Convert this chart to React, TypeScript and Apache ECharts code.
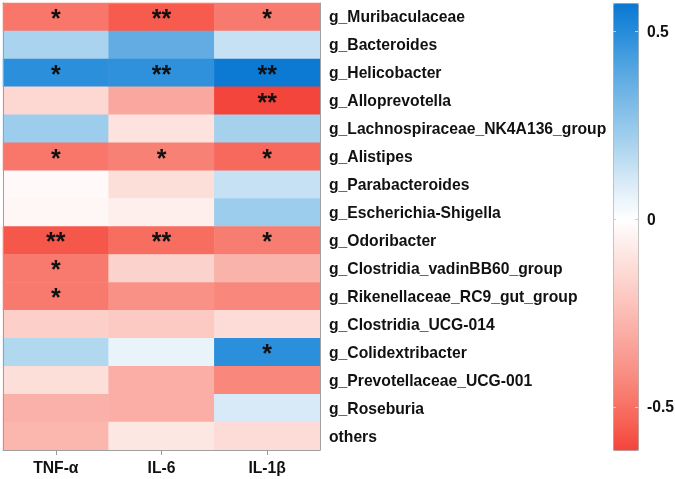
import React, { useEffect, useRef } from "react";
import * as echarts from "echarts";

const cytokines = ["TNF-α", "IL-6", "IL-1β"];
const genera = [
  "g_Muribaculaceae",
  "g_Bacteroides",
  "g_Helicobacter",
  "g_Alloprevotella",
  "g_Lachnospiraceae_NK4A136_group",
  "g_Alistipes",
  "g_Parabacteroides",
  "g_Escherichia-Shigella",
  "g_Odoribacter",
  "g_Clostridia_vadinBB60_group",
  "g_Rikenellaceae_RC9_gut_group",
  "g_Clostridia_UCG-014",
  "g_Colidextribacter",
  "g_Prevotellaceae_UCG-001",
  "g_Roseburia",
  "others",
];
const tnfValues = [-0.48, 0.2, 0.49, -0.15, 0.23, -0.48, -0.02, -0.03, -0.57, -0.47, -0.47, -0.18, 0.18, -0.12, -0.29, -0.27];
const il6Values = [-0.56, 0.37, 0.48, -0.32, -0.11, -0.45, -0.12, -0.06, -0.51, -0.17, -0.4, -0.2, 0.06, -0.3, -0.3, -0.09];
const il1bValues = [-0.47, 0.14, 0.57, -0.61, 0.21, -0.52, 0.14, 0.23, -0.46, -0.28, -0.43, -0.13, 0.49, -0.43, 0.1, -0.13];
const tnfStars = ["*", "", "*", "", "", "*", "", "", "**", "*", "*", "", "", "", "", ""];
const il6Stars = ["**", "", "**", "", "", "*", "", "", "**", "", "", "", "", "", "", ""];
const il1bStars = ["*", "", "**", "**", "", "*", "", "", "*", "", "", "", "*", "", "", ""];
const colorbarTicks = [0.5, 0, -0.5];
const scaleMin = -0.616;
const scaleMax = 0.576;

// colour scale key points (value -> colour)
const scaleKeys = [-0.616, -0.56, -0.48, -0.4, -0.3, -0.2, -0.1, 0, 0.1, 0.2, 0.3, 0.4, 0.49, 0.576];
const scaleColors = [
  "#f3433a", "#f65b4e", "#f8776a", "#f99186", "#faaea6", "#fccac3", "#fde4e0",
  "#ffffff", "#d8eaf7", "#a9d3ee", "#80bde8", "#55a6e1", "#2a8fdb", "#0a78d2",
];

const FONT = "'Liberation Sans', Arial, sans-serif";

function hexToRgb(h: string) {
  const n = parseInt(h.slice(1), 16);
  return [(n >> 16) & 255, (n >> 8) & 255, n & 255];
}
function colorAt(v: number) {
  let i = 0;
  while (i < scaleKeys.length - 2 && v > scaleKeys[i + 1]) i++;
  const a = scaleKeys[i], b = scaleKeys[i + 1];
  const t = Math.max(0, Math.min(1, (v - a) / (b - a)));
  const ca = hexToRgb(scaleColors[i]), cb = hexToRgb(scaleColors[i + 1]);
  const c = ca.map((x, k) => Math.round(x + (cb[k] - x) * t));
  return `rgb(${c[0]},${c[1]},${c[2]})`;
}

export default function App() {
  const ref = useRef<HTMLDivElement>(null);
  useEffect(() => {
    if (!ref.current) return;
    const chart = echarts.init(ref.current, null, { renderer: "svg" });
    const columns = [tnfValues, il6Values, il1bValues];
    const stars = [tnfStars, il6Stars, il1bStars];
    const data: any[] = [];
    columns.forEach((col, xi) => col.forEach((v, yi) => data.push([xi, yi, v])));

    const nStops = 121;
    const stops: string[] = [];
    for (let i = 0; i < nStops; i++) stops.push(colorAt(scaleMin + ((scaleMax - scaleMin) * i) / (nStops - 1)));

    const barLeft = 613, barTop = 3, barW = 25, barH = 447;
    const yOf = (v: number) => barTop + ((scaleMax - v) / (scaleMax - scaleMin)) * barH;
    const graphics: any[] = [];
    colorbarTicks.forEach((t) => {
      const y = Math.round(yOf(t)) + 0.5;
      graphics.push({ type: "line", shape: { x1: barLeft, y1: y, x2: barLeft + 3, y2: y }, style: { stroke: "#cfcfcf", lineWidth: 1 }, z: 20 });
      graphics.push({ type: "line", shape: { x1: barLeft + barW - 3, y1: y, x2: barLeft + barW, y2: y }, style: { stroke: "#cfcfcf", lineWidth: 1 }, z: 20 });
      graphics.push({
        type: "text",
        x: 647,
        y: yOf(t),
        style: { text: String(t), fill: "#111", font: `bold 15.7px ${FONT}`, textVerticalAlign: "middle", verticalAlign: "middle", textAlign: "left" },
        z: 20,
      });
    });

    const lineStyle = { color: "#a0a0a0", width: 1 };
    chart.setOption({
      animation: false,
      textStyle: { fontFamily: FONT },
      grid: { left: 3, top: 3, width: 317, height: 447, containLabel: false },
      xAxis: [
        {
          type: "category",
          data: cytokines,
          position: "bottom",
          z: 10,
          axisLine: { show: true, lineStyle },
          axisTick: { show: true, alignWithLabel: true, length: 5, lineStyle: { color: "#999" } },
          axisLabel: { color: "#111", fontWeight: "bold", fontSize: 15.7, fontFamily: FONT, margin: 9 },
          splitLine: { show: false },
        },
        {
          type: "category",
          data: cytokines,
          position: "top",
          z: 10,
          axisLine: { show: true, lineStyle },
          axisTick: { show: false },
          axisLabel: { show: false },
        },
      ],
      yAxis: [
        {
          type: "category",
          data: genera,
          inverse: true,
          position: "right",
          z: 10,
          axisLine: { show: true, lineStyle },
          axisTick: { show: false },
          axisLabel: { color: "#111", fontWeight: "bold", fontSize: 15.7, fontFamily: FONT, margin: 9 },
        },
        {
          type: "category",
          data: genera,
          inverse: true,
          position: "left",
          z: 10,
          axisLine: { show: true, lineStyle },
          axisTick: { show: false },
          axisLabel: { show: false },
        },
      ],
      visualMap: {
        type: "continuous",
        min: scaleMin,
        max: scaleMax,
        dimension: 2,
        seriesIndex: 0,
        orient: "vertical",
        left: barLeft,
        top: barTop,
        itemWidth: barW,
        itemHeight: barH,
        padding: 0,
        calculable: false,
        hoverLink: false,
        borderColor: "#aaaaaa",
        borderWidth: 1,
        inRange: { color: stops },
      },
      graphic: graphics,
      series: [
        {
          type: "heatmap",
          data,
          itemStyle: { borderWidth: 0 },
          emphasis: { disabled: true },
          label: {
            show: true,
            formatter: (p: any) => stars[p.data[0]][p.data[1]],
            color: "#111",
            fontSize: 25,
            fontWeight: "bold",
            fontFamily: FONT,
            offset: [0, 1],
          },
        },
      ],
    });
    return () => chart.dispose();
  }, []);
  return <div ref={ref} style={{ position: "fixed", left: 0, top: 0, width: 675, height: 479 }} />;
}
